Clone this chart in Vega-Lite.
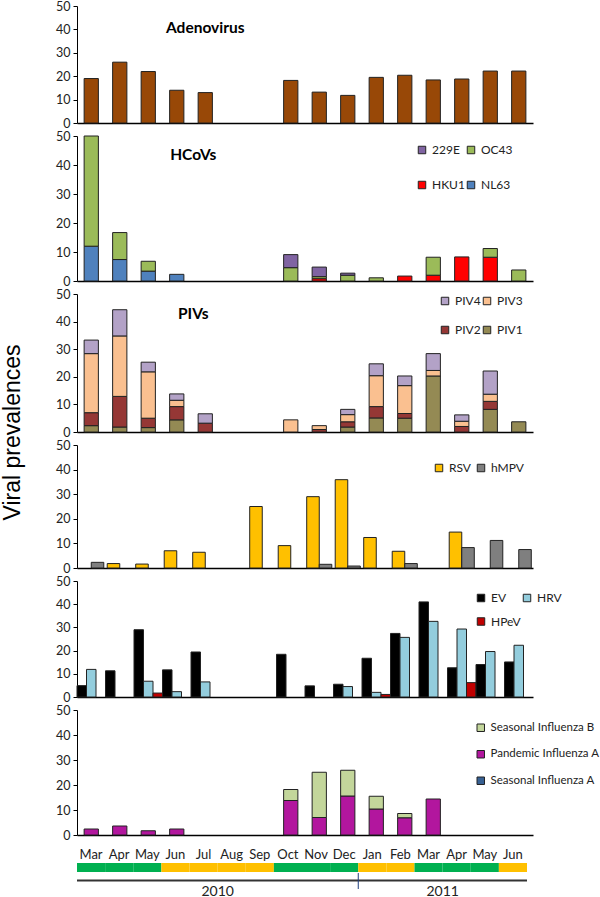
{
  "$schema": "https://vega.github.io/schema/vega-lite/v6.json",
  "padding": {"left": 1, "top": 0, "right": 5, "bottom": 4},
  "background": "white",
  "bounds": "flush",
  "spacing": 13,
  "resolve": {"scale": {"x": "independent", "y": "independent", "color": "independent", "xOffset": "independent"}, "legend": {"color": "independent"}, "axis": {"x": "independent", "y": "independent"}},
  "config": {
    "font": "Lato",
    "view": {"stroke": null},
    "axis": {"grid": false, "domainColor": "black", "tickColor": "black", "labelColor": "#222", "labelFontSize": 12.5, "labelFont": "Lato"},
    "legend": {"orient": "none", "symbolType": "square", "symbolSize": 56, "symbolStrokeColor": "#222", "symbolStrokeWidth": 1, "labelFontSize": 12, "labelColor": "#222", "labelOffset": 4, "labelFont": "Lato", "labelLimit": 200},
    "bar": {"stroke": "#222", "strokeWidth": 1}
  },
  "datasets": {
    "adeno": [
      {"month": "2010-03", "value": 19}, {"month": "2010-04", "value": 26}, {"month": "2010-05", "value": 22},
      {"month": "2010-06", "value": 14}, {"month": "2010-07", "value": 13}, {"month": "2010-10", "value": 18.2},
      {"month": "2010-11", "value": 13.2}, {"month": "2010-12", "value": 11.8}, {"month": "2011-01", "value": 19.5},
      {"month": "2011-02", "value": 20.4}, {"month": "2011-03", "value": 18.4}, {"month": "2011-04", "value": 18.8},
      {"month": "2011-05", "value": 22.2}, {"month": "2011-06", "value": 22.2}
    ],
    "hcov": [
      {"month": "2010-03", "virus": "NL63", "value": 12}, {"month": "2010-03", "virus": "OC43", "value": 38},
      {"month": "2010-04", "virus": "NL63", "value": 7.4}, {"month": "2010-04", "virus": "OC43", "value": 9.3},
      {"month": "2010-05", "virus": "NL63", "value": 3.4}, {"month": "2010-05", "virus": "OC43", "value": 3.4},
      {"month": "2010-06", "virus": "NL63", "value": 2.3},
      {"month": "2010-10", "virus": "OC43", "value": 4.6}, {"month": "2010-10", "virus": "229E", "value": 4.5},
      {"month": "2010-11", "virus": "HKU1", "value": 0.8}, {"month": "2010-11", "virus": "OC43", "value": 0.7}, {"month": "2010-11", "virus": "229E", "value": 3.3},
      {"month": "2010-12", "virus": "OC43", "value": 2.0}, {"month": "2010-12", "virus": "229E", "value": 0.7},
      {"month": "2011-01", "virus": "OC43", "value": 1.1},
      {"month": "2011-02", "virus": "HKU1", "value": 1.7},
      {"month": "2011-03", "virus": "HKU1", "value": 2.0}, {"month": "2011-03", "virus": "OC43", "value": 6.2},
      {"month": "2011-04", "virus": "HKU1", "value": 8.3},
      {"month": "2011-05", "virus": "HKU1", "value": 8.2}, {"month": "2011-05", "virus": "OC43", "value": 3.0},
      {"month": "2011-06", "virus": "OC43", "value": 3.8}
    ],
    "piv": [
      {"month": "2010-03", "virus": "PIV1", "value": 2.3}, {"month": "2010-03", "virus": "PIV2", "value": 4.7}, {"month": "2010-03", "virus": "PIV3", "value": 21.4}, {"month": "2010-03", "virus": "PIV4", "value": 4.9},
      {"month": "2010-04", "virus": "PIV1", "value": 1.8}, {"month": "2010-04", "virus": "PIV2", "value": 11.1}, {"month": "2010-04", "virus": "PIV3", "value": 21.9}, {"month": "2010-04", "virus": "PIV4", "value": 9.5},
      {"month": "2010-05", "virus": "PIV1", "value": 1.6}, {"month": "2010-05", "virus": "PIV2", "value": 3.4}, {"month": "2010-05", "virus": "PIV3", "value": 16.8}, {"month": "2010-05", "virus": "PIV4", "value": 3.5},
      {"month": "2010-06", "virus": "PIV1", "value": 4.4}, {"month": "2010-06", "virus": "PIV2", "value": 4.8}, {"month": "2010-06", "virus": "PIV3", "value": 2.3}, {"month": "2010-06", "virus": "PIV4", "value": 2.3},
      {"month": "2010-07", "virus": "PIV2", "value": 3.2}, {"month": "2010-07", "virus": "PIV4", "value": 3.4},
      {"month": "2010-10", "virus": "PIV3", "value": 4.4},
      {"month": "2010-11", "virus": "PIV2", "value": 0.9}, {"month": "2010-11", "virus": "PIV3", "value": 1.4},
      {"month": "2010-12", "virus": "PIV1", "value": 1.8}, {"month": "2010-12", "virus": "PIV2", "value": 1.9}, {"month": "2010-12", "virus": "PIV3", "value": 2.6}, {"month": "2010-12", "virus": "PIV4", "value": 1.9},
      {"month": "2011-01", "virus": "PIV1", "value": 5.1}, {"month": "2011-01", "virus": "PIV2", "value": 4.1}, {"month": "2011-01", "virus": "PIV3", "value": 11.2}, {"month": "2011-01", "virus": "PIV4", "value": 4.3},
      {"month": "2011-02", "virus": "PIV1", "value": 5.0}, {"month": "2011-02", "virus": "PIV2", "value": 1.7}, {"month": "2011-02", "virus": "PIV3", "value": 10.1}, {"month": "2011-02", "virus": "PIV4", "value": 3.5},
      {"month": "2011-03", "virus": "PIV1", "value": 20.3}, {"month": "2011-03", "virus": "PIV3", "value": 2.0}, {"month": "2011-03", "virus": "PIV4", "value": 6.1},
      {"month": "2011-04", "virus": "PIV2", "value": 2.0}, {"month": "2011-04", "virus": "PIV3", "value": 1.9}, {"month": "2011-04", "virus": "PIV4", "value": 2.3},
      {"month": "2011-05", "virus": "PIV1", "value": 8.2}, {"month": "2011-05", "virus": "PIV2", "value": 2.9}, {"month": "2011-05", "virus": "PIV3", "value": 2.6}, {"month": "2011-05", "virus": "PIV4", "value": 8.4},
      {"month": "2011-06", "virus": "PIV1", "value": 3.7}
    ],
    "rsv": [
      {"month": "2010-03", "virus": "hMPV", "value": 2.3},
      {"month": "2010-04", "virus": "RSV", "value": 1.8},
      {"month": "2010-05", "virus": "RSV", "value": 1.6},
      {"month": "2010-06", "virus": "RSV", "value": 7.0},
      {"month": "2010-07", "virus": "RSV", "value": 6.4},
      {"month": "2010-09", "virus": "RSV", "value": 25.0},
      {"month": "2010-10", "virus": "RSV", "value": 9.1},
      {"month": "2010-11", "virus": "RSV", "value": 29.0}, {"month": "2010-11", "virus": "hMPV", "value": 1.5},
      {"month": "2010-12", "virus": "RSV", "value": 35.9}, {"month": "2010-12", "virus": "hMPV", "value": 0.8},
      {"month": "2011-01", "virus": "RSV", "value": 12.4},
      {"month": "2011-02", "virus": "RSV", "value": 6.8}, {"month": "2011-02", "virus": "hMPV", "value": 1.8},
      {"month": "2011-04", "virus": "RSV", "value": 14.6}, {"month": "2011-04", "virus": "hMPV", "value": 8.3},
      {"month": "2011-05", "virus": "hMPV", "value": 11.2},
      {"month": "2011-06", "virus": "hMPV", "value": 7.5}
    ],
    "entero": [
      {"month": "2010-03", "virus": "EV", "value": 4.9}, {"month": "2010-03", "virus": "HRV", "value": 11.9},
      {"month": "2010-04", "virus": "EV", "value": 11.3},
      {"month": "2010-05", "virus": "EV", "value": 29.0}, {"month": "2010-05", "virus": "HRV", "value": 6.8}, {"month": "2010-05", "virus": "HPeV", "value": 1.7},
      {"month": "2010-06", "virus": "EV", "value": 11.7}, {"month": "2010-06", "virus": "HRV", "value": 2.3},
      {"month": "2010-07", "virus": "EV", "value": 19.4}, {"month": "2010-07", "virus": "HRV", "value": 6.5},
      {"month": "2010-10", "virus": "EV", "value": 18.4},
      {"month": "2010-11", "virus": "EV", "value": 4.8},
      {"month": "2010-12", "virus": "EV", "value": 5.5}, {"month": "2010-12", "virus": "HRV", "value": 4.5},
      {"month": "2011-01", "virus": "EV", "value": 16.7}, {"month": "2011-01", "virus": "HRV", "value": 2.0}, {"month": "2011-01", "virus": "HPeV", "value": 1.1},
      {"month": "2011-02", "virus": "EV", "value": 27.4}, {"month": "2011-02", "virus": "HRV", "value": 25.7},
      {"month": "2011-03", "virus": "EV", "value": 41.0}, {"month": "2011-03", "virus": "HRV", "value": 32.6},
      {"month": "2011-04", "virus": "EV", "value": 12.6}, {"month": "2011-04", "virus": "HRV", "value": 29.3}, {"month": "2011-04", "virus": "HPeV", "value": 6.2},
      {"month": "2011-05", "virus": "EV", "value": 14.0}, {"month": "2011-05", "virus": "HRV", "value": 19.6},
      {"month": "2011-06", "virus": "EV", "value": 15.1}, {"month": "2011-06", "virus": "HRV", "value": 22.3}
    ],
    "flu": [
      {"month": "2010-03", "virus": "Pandemic Influenza A", "value": 2.4},
      {"month": "2010-04", "virus": "Pandemic Influenza A", "value": 3.6},
      {"month": "2010-05", "virus": "Pandemic Influenza A", "value": 1.7},
      {"month": "2010-06", "virus": "Pandemic Influenza A", "value": 2.4},
      {"month": "2010-10", "virus": "Pandemic Influenza A", "value": 13.8}, {"month": "2010-10", "virus": "Seasonal Influenza B", "value": 4.4},
      {"month": "2010-11", "virus": "Pandemic Influenza A", "value": 7.0}, {"month": "2010-11", "virus": "Seasonal Influenza B", "value": 18.1},
      {"month": "2010-12", "virus": "Pandemic Influenza A", "value": 15.6}, {"month": "2010-12", "virus": "Seasonal Influenza B", "value": 10.3},
      {"month": "2011-01", "virus": "Pandemic Influenza A", "value": 10.4}, {"month": "2011-01", "virus": "Seasonal Influenza B", "value": 5.1},
      {"month": "2011-02", "virus": "Pandemic Influenza A", "value": 6.9}, {"month": "2011-02", "virus": "Seasonal Influenza B", "value": 1.7},
      {"month": "2011-03", "virus": "Pandemic Influenza A", "value": 14.4}
    ],
    "months": [
      {"month": "2010-03", "label": "Mar", "season": "green"}, {"month": "2010-04", "label": "Apr", "season": "green"},
      {"month": "2010-05", "label": "May", "season": "green"}, {"month": "2010-06", "label": "Jun", "season": "orange"},
      {"month": "2010-07", "label": "Jul", "season": "orange"}, {"month": "2010-08", "label": "Aug", "season": "orange"},
      {"month": "2010-09", "label": "Sep", "season": "orange"}, {"month": "2010-10", "label": "Oct", "season": "green"},
      {"month": "2010-11", "label": "Nov", "season": "green"}, {"month": "2010-12", "label": "Dec", "season": "green"},
      {"month": "2011-01", "label": "Jan", "season": "orange"}, {"month": "2011-02", "label": "Feb", "season": "orange"},
      {"month": "2011-03", "label": "Mar", "season": "green"}, {"month": "2011-04", "label": "Apr", "season": "green"},
      {"month": "2011-05", "label": "May", "season": "green"}, {"month": "2011-06", "label": "Jun", "season": "orange"}
    ]
  },
  "vconcat": [
    {
      "width": 456, "height": 117,
      "layer": [
        {
          "data": {"name": "adeno"},
          "mark": {"type": "bar", "color": "#984807"},
          "encoding": {
            "x": {"field": "month", "type": "ordinal", "scale": {"domain": ["2010-03","2010-04","2010-05","2010-06","2010-07","2010-08","2010-09","2010-10","2010-11","2010-12","2011-01","2011-02","2011-03","2011-04","2011-05","2011-06"], "paddingInner": 0.5, "paddingOuter": 0.25}, "axis": {"title": null, "labels": false, "ticks": false, "domainWidth": 1.5}},
            "y": {"field": "value", "type": "quantitative", "scale": {"domain": [0, 50], "nice": false}, "axis": {"title": null, "values": [0, 10, 20, 30, 40, 50], "tickSize": 4, "labelPadding": 3}}
          }
        },
        {
          "data": {"values": [{"name": "Adenovirus"}]},
          "mark": {"type": "text", "fontWeight": "bold", "fontSize": 15.5, "color": "black"},
          "encoding": {
            "x": {"datum": "2010-07", "type": "ordinal", "axis": {"title": null, "labels": false, "ticks": false, "domainWidth": 1.5}},
            "y": {"datum": 40.6, "type": "quantitative", "axis": {"title": null, "values": [0, 10, 20, 30, 40, 50], "tickSize": 4, "labelPadding": 3}},
            "text": {"field": "name"}
          }
        }
      ]
    },
    {
      "width": 456, "height": 145,
      "layer": [
        {
          "data": {"name": "hcov"},
          "mark": {"type": "bar"},
          "encoding": {
            "x": {"field": "month", "type": "ordinal", "scale": {"domain": ["2010-03","2010-04","2010-05","2010-06","2010-07","2010-08","2010-09","2010-10","2010-11","2010-12","2011-01","2011-02","2011-03","2011-04","2011-05","2011-06"], "paddingInner": 0.5, "paddingOuter": 0.25}, "axis": {"title": null, "labels": false, "ticks": false, "domainWidth": 1.5}},
            "y": {"field": "value", "type": "quantitative", "stack": "zero", "scale": {"domain": [0, 50], "nice": false}, "axis": {"title": null, "values": [0, 10, 20, 30, 40, 50], "tickSize": 4, "labelPadding": 3}},
            "color": {"field": "virus", "type": "nominal", "scale": {"domain": ["229E", "HKU1", "OC43", "NL63"], "range": ["#8064A2", "#FF0000", "#9BBB59", "#4F81BD"]}, "legend": {"title": null, "columns": 2, "legendX": 339, "legendY": 8, "rowPadding": 23, "columnPadding": -1, "gridAlign": "each"}},
            "order": {"field": "month"}
          }
        },
        {
          "data": {"values": [{"name": "HCoVs"}]},
          "mark": {"type": "text", "fontWeight": "bold", "fontSize": 15.5, "color": "black", "dx": -12},
          "encoding": {
            "x": {"datum": "2010-07", "type": "ordinal", "axis": {"title": null, "labels": false, "ticks": false, "domainWidth": 1.5}},
            "y": {"datum": 43.4, "type": "quantitative", "axis": {"title": null, "values": [0, 10, 20, 30, 40, 50], "tickSize": 4, "labelPadding": 3}},
            "text": {"field": "name"}
          }
        }
      ]
    },
    {
      "width": 456, "height": 138,
      "layer": [
        {
          "data": {"name": "piv"},
          "mark": {"type": "bar"},
          "encoding": {
            "x": {"field": "month", "type": "ordinal", "scale": {"domain": ["2010-03","2010-04","2010-05","2010-06","2010-07","2010-08","2010-09","2010-10","2010-11","2010-12","2011-01","2011-02","2011-03","2011-04","2011-05","2011-06"], "paddingInner": 0.5, "paddingOuter": 0.25}, "axis": {"title": null, "labels": false, "ticks": false, "domainWidth": 1.5}},
            "y": {"field": "value", "type": "quantitative", "stack": "zero", "scale": {"domain": [0, 50], "nice": false}, "axis": {"title": "Viral prevalences", "titleFont": "Liberation Sans", "titleFontSize": 23, "titleFontWeight": "normal", "titleColor": "black", "titleAngle": 270, "titleAlign": "center", "titleBaseline": "middle", "titleX": -65, "titleY": 138, "values": [0, 10, 20, 30, 40, 50], "tickSize": 4, "labelPadding": 3}},
            "color": {"field": "virus", "type": "nominal", "scale": {"domain": ["PIV4", "PIV2", "PIV3", "PIV1"], "range": ["#B3A2C7", "#953735", "#FAC090", "#948A54"]}, "legend": {"title": null, "columns": 2, "legendX": 362, "legendY": 1, "rowPadding": 17, "columnPadding": -1, "gridAlign": "each"}},
            "order": {"field": "month"}
          }
        },
        {
          "data": {"values": [{"name": "PIVs"}]},
          "mark": {"type": "text", "fontWeight": "bold", "fontSize": 15.5, "color": "black", "dx": -12},
          "encoding": {
            "x": {"datum": "2010-07", "type": "ordinal", "axis": {"title": null, "labels": false, "ticks": false, "domainWidth": 1.5}},
            "y": {"datum": 42.8, "type": "quantitative", "axis": {"title": "Viral prevalences", "titleFont": "Liberation Sans", "titleFontSize": 23, "titleFontWeight": "normal", "titleColor": "black", "titleAngle": 270, "titleAlign": "center", "titleBaseline": "middle", "titleX": -65, "titleY": 138, "values": [0, 10, 20, 30, 40, 50], "tickSize": 4, "labelPadding": 3}},
            "text": {"field": "name"}
          }
        }
      ]
    },
    {
      "width": 456, "height": 123,
      "data": {"name": "rsv"},
      "mark": {"type": "bar"},
      "encoding": {
        "x": {"field": "month", "type": "ordinal", "scale": {"domain": ["2010-03","2010-04","2010-05","2010-06","2010-07","2010-08","2010-09","2010-10","2010-11","2010-12","2011-01","2011-02","2011-03","2011-04","2011-05","2011-06"], "paddingInner": 0.12, "paddingOuter": 0.06}, "axis": {"title": null, "labels": false, "ticks": false, "domainWidth": 1.5}},
        "xOffset": {"field": "virus", "type": "nominal", "scale": {"domain": ["RSV", "hMPV"], "paddingInner": 0, "paddingOuter": 0}},
        "y": {"field": "value", "type": "quantitative", "stack": null, "scale": {"domain": [0, 50], "nice": false}, "axis": {"title": null, "values": [0, 10, 20, 30, 40, 50], "tickSize": 4, "labelPadding": 3}},
        "color": {"field": "virus", "type": "nominal", "scale": {"domain": ["RSV", "hMPV"], "range": ["#FFC000", "#7F7F7F"]}, "legend": {"title": null, "columns": 2, "legendX": 356, "legendY": 17, "columnPadding": 4, "gridAlign": "each"}}
      }
    },
    {
      "width": 456, "height": 116,
      "data": {"name": "entero"},
      "mark": {"type": "bar"},
      "encoding": {
        "x": {"field": "month", "type": "ordinal", "scale": {"domain": ["2010-03","2010-04","2010-05","2010-06","2010-07","2010-08","2010-09","2010-10","2010-11","2010-12","2011-01","2011-02","2011-03","2011-04","2011-05","2011-06"], "paddingInner": 0, "paddingOuter": 0}, "axis": {"title": null, "labels": false, "ticks": false, "domainWidth": 1.5}},
        "xOffset": {"field": "virus", "type": "nominal", "scale": {"domain": ["EV", "HRV", "HPeV"], "paddingInner": 0, "paddingOuter": 0}},
        "y": {"field": "value", "type": "quantitative", "stack": null, "scale": {"domain": [0, 50], "nice": false}, "axis": {"title": null, "values": [0, 10, 20, 30, 40, 50], "tickSize": 4, "labelPadding": 3}},
        "color": {"field": "virus", "type": "nominal", "scale": {"domain": ["EV", "HPeV", "HRV"], "range": ["#000000", "#C00000", "#93CDDD"]}, "legend": {"title": null, "columns": 2, "legendX": 398, "legendY": 11, "rowPadding": 11.5, "columnPadding": -2, "gridAlign": "each"}}
      }
    },
    {
      "width": 456, "height": 125,
      "data": {"name": "flu"},
      "mark": {"type": "bar"},
      "encoding": {
        "x": {"field": "month", "type": "ordinal", "scale": {"domain": ["2010-03","2010-04","2010-05","2010-06","2010-07","2010-08","2010-09","2010-10","2010-11","2010-12","2011-01","2011-02","2011-03","2011-04","2011-05","2011-06"], "paddingInner": 0.5, "paddingOuter": 0.25}, "axis": {"title": null, "labels": false, "ticks": false, "domainWidth": 1.5}},
        "y": {"field": "value", "type": "quantitative", "stack": "zero", "scale": {"domain": [0, 50], "nice": false}, "axis": {"title": null, "values": [0, 10, 20, 30, 40, 50], "tickSize": 4, "labelPadding": 3}},
        "color": {"field": "virus", "type": "nominal", "scale": {"domain": ["Seasonal Influenza B", "Pandemic Influenza A", "Seasonal Influenza A"], "range": ["#C3D69B", "#B2169E", "#376092"]}, "legend": {"title": null, "columns": 1, "legendX": 398, "legendY": 12, "rowPadding": 13.5, "labelFontSize": 11.5}},
        "order": {"field": "month"}
      }
    },
    {
      "width": 450, "height": 50,
      "layer": [
        {
          "data": {"name": "months"},
          "mark": {"type": "text", "fontSize": 13, "color": "#222"},
          "encoding": {
            "x": {"field": "month", "type": "ordinal", "scale": {"domain": ["2010-03","2010-04","2010-05","2010-06","2010-07","2010-08","2010-09","2010-10","2010-11","2010-12","2011-01","2011-02","2011-03","2011-04","2011-05","2011-06"], "paddingInner": 0, "paddingOuter": 0}, "axis": null},
            "y": {"datum": 7, "type": "quantitative", "scale": {"domain": [0, 50], "reverse": true}, "axis": null},
            "text": {"field": "label"}
          }
        },
        {
          "data": {"name": "months"},
          "mark": {"type": "rect", "stroke": null},
          "encoding": {
            "x": {"field": "month", "type": "ordinal"},
            "y": {"datum": 15, "type": "quantitative"},
            "y2": {"datum": 24},
            "color": {"field": "season", "type": "nominal", "scale": {"domain": ["green", "orange"], "range": ["#00B050", "#FFC000"]}, "legend": null}
          }
        },
        {
          "data": {"values": [{"year": "all"}]},
          "mark": {"type": "rule", "color": "#333", "strokeWidth": 2},
          "encoding": {"y": {"datum": 32.5, "type": "quantitative"}}
        },
        {
          "data": {"values": [{"year": "split"}]},
          "mark": {"type": "rule", "color": "#1F3F7F", "strokeWidth": 1},
          "encoding": {
            "x": {"datum": "2011-01", "type": "ordinal", "bandPosition": 0},
            "y": {"datum": 25, "type": "quantitative"},
            "y2": {"datum": 41}
          }
        },
        {
          "data": {"values": [{"year": "2010"}]},
          "mark": {"type": "text", "fontSize": 14, "color": "#222"},
          "encoding": {
            "x": {"datum": "2010-08", "type": "ordinal", "bandPosition": 0},
            "y": {"datum": 43.5, "type": "quantitative"},
            "text": {"field": "year"}
          }
        },
        {
          "data": {"values": [{"year": "2011"}]},
          "mark": {"type": "text", "fontSize": 14, "color": "#222"},
          "encoding": {
            "x": {"datum": "2011-04", "type": "ordinal", "bandPosition": 0},
            "y": {"datum": 43.5, "type": "quantitative"},
            "text": {"field": "year"}
          }
        }
      ]
    }
  ]
}
